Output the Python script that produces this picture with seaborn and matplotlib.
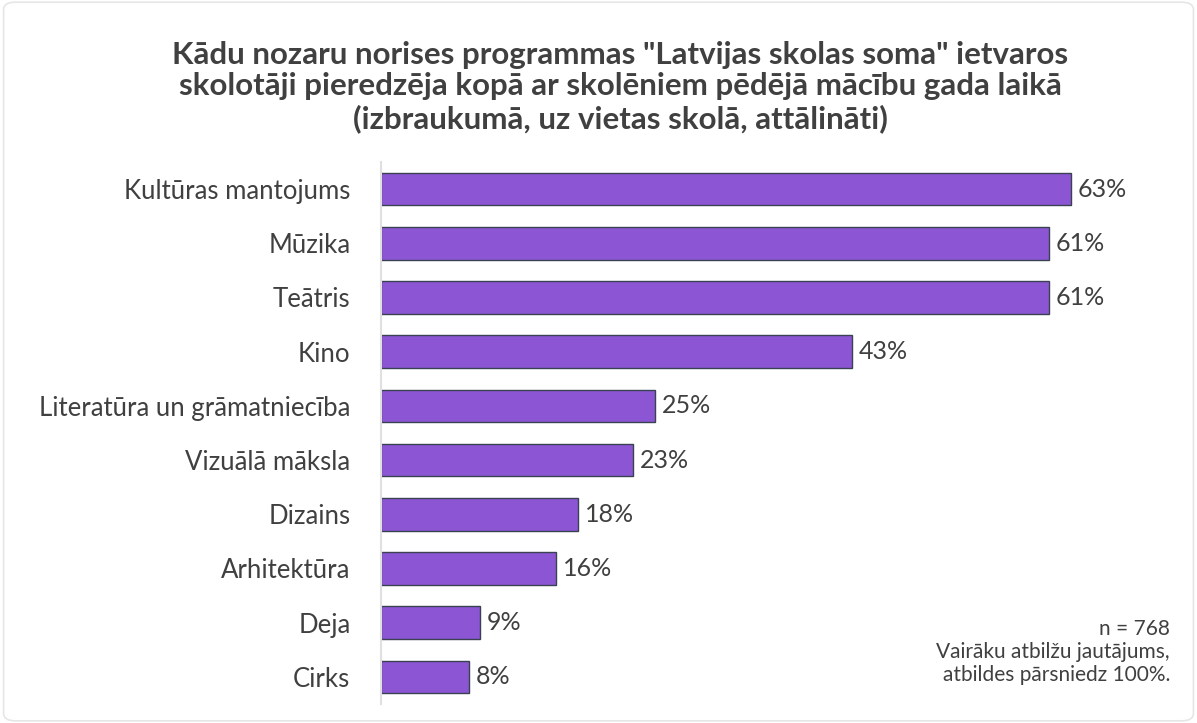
import seaborn as sns
import matplotlib.pyplot as plt
import pandas as pd
from matplotlib.patches import FancyBboxPatch

categories = ["Kultūras mantojums", "Mūzika", "Teātris", "Kino",
              "Literatūra un grāmatniecība", "Vizuālā māksla", "Dizains",
              "Arhitektūra", "Deja", "Cirks"]
values = [63, 61, 61, 43, 25, 23, 18, 16, 9, 8]
value_labels = ["63%", "61%", "61%", "43%", "25%", "23%", "18%", "16%", "9%", "8%"]

title = ('Kādu nozaru norises programmas "Latvijas skolas soma" ietvaros\n'
         'skolotāji pieredzēja kopā ar skolēniem pēdējā mācību gada laikā\n'
         '(izbraukumā, uz vietas skolā, attālināti)')
note = "n = 768\nVairāku atbilžu jautājums,\natbildes pārsniedz 100%."

df = pd.DataFrame({"cat": categories, "val": values})

sns.set_style("white")
plt.rcParams["font.family"] = ["Lato", "DejaVu Sans"]

fig = plt.figure(figsize=(11.97, 7.23), dpi=100)
ax = fig.add_axes([381 / 1197, 1 - 704 / 723, (1180 - 381) / 1197, (704 - 162) / 723])

sns.barplot(data=df, x="val", y="cat", color="#8B55D4", saturation=1,
            width=0.6, edgecolor="#3a4150", linewidth=1, ax=ax)

for i, (v, lab) in enumerate(zip(values, value_labels)):
    ax.text(v + 0.65, i, lab, va="center", ha="left", fontsize=18, color="#404040")

ax.set_xlim(0, 73)
ax.set_xlabel("")
ax.set_ylabel("")
ax.set_xticks([])
ax.tick_params(axis="y", length=0, pad=22, labelsize=18.5, labelcolor="#404040")
for s in ["top", "right", "bottom"]:
    ax.spines[s].set_visible(False)
ax.spines["left"].set_color("#e0e0e0")
ax.spines["left"].set_linewidth(1.5)

fig.text(620 / 1197, 1 - 87 / 723, title, ha="center", va="center",
         fontsize=22.5, fontweight="bold", color="#404040", linespacing=1.16)
fig.text(1170 / 1197, 1 - 652 / 723, note, ha="right", va="center",
         fontsize=15, color="#404040", linespacing=1.2)

border = FancyBboxPatch((0.003, 0.003), 0.994, 0.994, boxstyle="round,pad=0,rounding_size=0.01",
                        transform=fig.transFigure, fill=False, edgecolor="#e6e6e6", linewidth=1.2)
fig.patches.append(border)

fig.savefig("out.png", dpi=100)
